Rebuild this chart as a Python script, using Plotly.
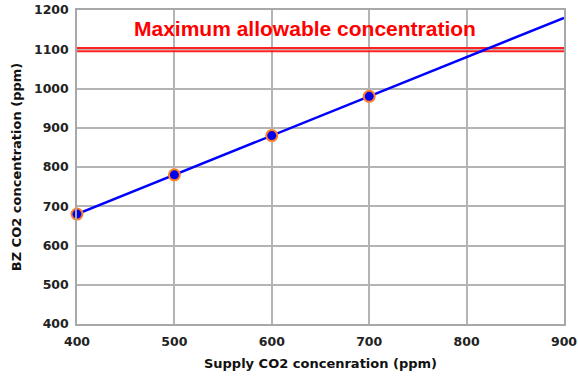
import plotly.graph_objects as go

supply = [400, 500, 600, 700]
bz = [680, 780, 880, 980]
line_x = [400, 900]
line_y = [680, 1180]
limit_x = [400, 900]
limit_upper = [1103, 1103]
limit_lower = [1095, 1095]
label = "Maximum allowable concentration"

fig = go.Figure()
for yy in (limit_upper, limit_lower):
    fig.add_trace(go.Scatter(x=limit_x, y=yy, mode="lines",
                             line=dict(color="#ff2020", width=2), hoverinfo="skip"))
fig.add_trace(go.Scatter(x=line_x, y=line_y, mode="lines",
                         line=dict(color="#0000ff", width=2.5)))
fig.add_trace(go.Scatter(x=supply, y=bz, mode="markers", cliponaxis=False,
                         marker=dict(size=11, color="#0000ee",
                                     line=dict(color="#ff7f27", width=2))))
fig.add_annotation(x=634, y=1153, text="<b>" + label + "</b>", showarrow=False,
                   font=dict(family="Liberation Sans, Arial", size=21, color="#ff0000"))

tickfont = dict(family="DejaVu Sans", size=12.5, color="#222222")
titlefont = dict(family="DejaVu Sans", size=13, color="#111111")
axis_common = dict(showgrid=True, gridcolor="#b4b4b4", gridwidth=1.5,
                   showline=True, linecolor="#a8a8a8", linewidth=1.5, mirror=True,
                   zeroline=False, ticks="", automargin=False, tickfont=tickfont,
                   ticklabeloverflow="allow")
fig.update_xaxes(range=[400, 900], dtick=100, ticklabelstandoff=5,
                 title=dict(text="<b>Supply CO2 concenration (ppm)</b>", standoff=11,
                            font=titlefont),
                 **axis_common)
fig.update_yaxes(range=[400, 1200], dtick=100, ticklabelstandoff=4,
                 title=dict(text="<b>BZ CO2 concentration (ppm)</b>", standoff=9,
                            font=titlefont),
                 **axis_common)
fig.update_layout(width=578, height=379, showlegend=False,
                  plot_bgcolor="white", paper_bgcolor="white",
                  margin=dict(l=77, r=14, t=10, b=55))
fig.update_xaxes(tickprefix="<b>", ticksuffix="</b>")
fig.update_yaxes(tickprefix="<b>", ticksuffix="</b>")
fig.write_html("out.html", config={"displayModeBar": False},
               post_script="document.body.style.margin='0';document.body.style.overflow='hidden';")
